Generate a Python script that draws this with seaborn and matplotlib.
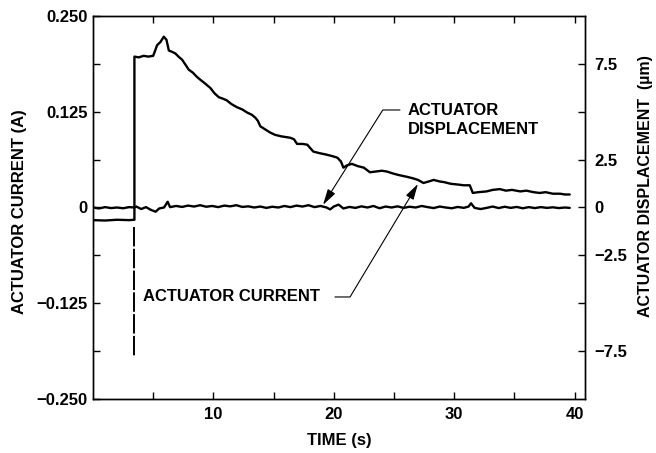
import matplotlib
matplotlib.use("Agg")
import matplotlib.pyplot as plt
import seaborn as sns

# Actuator current trace (A), left axis
current_t = [0.0, 1.0, 2.0, 3.0, 3.44, 3.44, 3.8, 4.2, 4.6, 5.0, 5.33, 5.6, 5.88,
             6.1, 6.3, 6.6, 6.85, 7.1, 7.4, 7.7, 7.95, 8.3, 8.6, 8.9, 9.3, 9.75,
             10.1, 10.45, 10.8, 11.1, 11.5, 11.95, 12.4, 12.8, 13.2, 13.5, 13.7,
             13.9, 14.3, 14.7, 15.1, 15.6, 16.0, 16.4, 16.7, 16.95, 17.4, 17.8,
             18.3, 18.8, 19.4, 19.9, 20.3, 20.6, 20.8, 21.1, 21.5, 22.0, 22.5,
             23.0, 23.5, 24.0, 24.4, 25.0, 25.5, 26.1, 26.6, 27.0, 27.45, 27.9,
             28.3, 28.8, 29.2, 29.7, 30.3, 30.8, 31.3, 31.55, 32.0, 32.7, 33.2,
             33.8, 34.3, 34.8, 35.5, 36.0, 36.6, 37.1, 37.6, 38.2, 38.8, 39.2, 39.6]
current_a = [-0.0165, -0.017, -0.016, -0.0165, -0.016, 0.197, 0.196, 0.198, 0.197,
             0.198, 0.212, 0.216, 0.223, 0.219, 0.205, 0.203, 0.201, 0.197, 0.193,
             0.186, 0.180, 0.176, 0.171, 0.167, 0.162, 0.156, 0.149, 0.144, 0.142,
             0.140, 0.135, 0.131, 0.128, 0.124, 0.121, 0.117, 0.113, 0.106, 0.102,
             0.098, 0.095, 0.093, 0.092, 0.091, 0.089, 0.083, 0.083, 0.082, 0.073,
             0.071, 0.069, 0.067, 0.065, 0.060, 0.052, 0.055, 0.057, 0.054, 0.052,
             0.046, 0.047, 0.048, 0.047, 0.044, 0.042, 0.040, 0.038, 0.036, 0.032,
             0.034, 0.036, 0.034, 0.033, 0.031, 0.030, 0.029, 0.029, 0.019, 0.020,
             0.021, 0.023, 0.024, 0.022, 0.023, 0.021, 0.022, 0.020, 0.019, 0.020,
             0.018, 0.018, 0.017, 0.017]

# Actuator displacement trace (um), right axis
disp_t = [0.0, 0.5, 1.0, 1.5, 2.0, 2.5, 3.0, 3.44, 3.6, 4.0, 4.4, 4.8, 5.2, 5.5,
          5.9, 6.2, 6.4, 6.9, 7.4, 7.9, 8.4, 8.9, 9.4, 9.9, 10.4, 10.9, 11.4, 11.9,
          12.4, 12.9, 13.4, 13.9, 14.4, 14.9, 15.4, 15.9, 16.4, 16.9, 17.4, 17.9,
          18.4, 18.9, 19.4, 19.7, 20.0, 20.4, 20.8, 21.3, 21.8, 22.3, 22.8, 23.3,
          23.8, 24.3, 24.8, 25.3, 25.8, 26.3, 26.8, 27.3, 27.8, 28.3, 28.8, 29.3,
          29.8, 30.3, 30.8, 31.2, 31.4, 31.7, 32.2, 32.7, 33.2, 33.7, 34.2, 34.7,
          35.2, 35.7, 36.2, 36.7, 37.2, 37.7, 38.2, 38.7, 39.2, 39.6]
disp_um = [0.0, -0.05, 0.02, -0.03, 0.0, -0.04, 0.02, 0.0, 0.05, -0.08, 0.02, -0.12,
           -0.22, -0.05, 0.0, 0.3, 0.02, 0.08, 0.03, 0.1, 0.05, 0.12, 0.04, 0.08,
           0.02, 0.1, 0.06, 0.12, 0.03, 0.06, 0.0, 0.05, -0.02, 0.04, 0.0, 0.08,
           0.02, 0.1, 0.05, 0.12, 0.02, 0.08, 0.0, -0.1, 0.05, 0.15, -0.05, 0.03,
           -0.02, 0.06, 0.0, 0.08, -0.04, 0.05, 0.0, 0.06, -0.02, 0.04, 0.0, 0.08,
           0.02, -0.03, 0.05, 0.0, -0.04, 0.03, -0.02, 0.05, 0.22, -0.02, -0.08,
           -0.02, 0.05, -0.03, 0.04, -0.02, 0.03, -0.04, 0.02, -0.03, 0.02, -0.02,
           0.01, -0.03, 0.0, -0.02]

# Fast transient at switch-on
spike_t = [3.44, 3.44]
spike_um = [-1.0, -7.8]

current_ticks = [-0.25, -0.125, 0.0, 0.125, 0.25]
current_labels = ["\u22120.250", "\u22120.125", "0", "0.125", "0.250"]
current_minor = [-0.1875, -0.0625, 0.0625, 0.1875]
disp_ticks = [-7.5, -2.5, 0.0, 2.5, 7.5]
disp_labels = ["\u22127.5", "\u22122.5", "0", "2.5", "7.5"]
disp_minor = [-5.0, 5.0]
time_ticks = [10, 20, 30, 40]
time_labels = ["10", "20", "30", "40"]
time_minor = [5, 15, 25, 35]

sns.set_theme(style="ticks")
plt.rcParams["font.family"] = ["Liberation Sans", "DejaVu Sans"]
plt.rcParams["axes.linewidth"] = 1.0

W, H = 656, 453
fig = plt.figure(figsize=(W / 100, H / 100), dpi=100)
ax = fig.add_axes([93 / W, 1 - 399 / H, 492 / W, 383 / H])
ax2 = ax.twinx()

lw = 1.7
sns.lineplot(x=current_t, y=current_a, ax=ax, color="black", lw=lw,
             estimator=None, sort=False, legend=False)
sns.lineplot(x=disp_t, y=disp_um, ax=ax2, color="black", lw=lw,
             estimator=None, sort=False, legend=False)
sns.lineplot(x=spike_t, y=spike_um, ax=ax2, color="black", lw=1.4,
             linestyle=(0, (10, 1.2)), estimator=None, sort=False, legend=False)

ax.set_xlim(0, 40.87)
ax.set_ylim(-0.25, 0.25)
ax2.set_ylim(-10, 10)

tfont = dict(fontsize=12, fontweight="bold", color="black")

ax.set_xticks(time_ticks)
ax.set_xticklabels(time_labels, **tfont)
ax.set_xticks(time_minor, minor=True)
ax.set_yticks(current_ticks)
ax.set_yticklabels(current_labels, **tfont)
ax.set_yticks(current_minor, minor=True)
ax.tick_params(axis="both", which="both", direction="in", length=5, width=1.0,
               colors="black")
ax.tick_params(axis="x", which="both", top=True, pad=6)
ax.tick_params(axis="y", which="both", right=False, pad=4)

ax2.set_yticks(disp_ticks)
ax2.set_yticklabels(disp_labels, **tfont)
ax2.set_yticks(disp_minor, minor=True)
ax2.tick_params(axis="y", which="both", direction="in", length=5, width=1.0,
                pad=7, colors="black")

for a in (ax, ax2):
    for s in a.spines.values():
        s.set_color("black")
        s.set_linewidth(1.0)

lfont = dict(fontsize=12, fontweight="bold", color="black")
ax.set_xlabel("TIME (s)", **lfont)
ax.xaxis.set_label_coords(0.5, -0.089)
ax.set_ylabel("ACTUATOR CURRENT (A)", **lfont)
ax.yaxis.set_label_coords(-0.134, 0.49)
ax2.set_ylabel("ACTUATOR DISPLACEMENT  (\u00b5m)", fontsize=11.5,
               fontweight="bold", color="black")
ax2.yaxis.set_label_coords(1.108, 0.555)

arrow_kw = dict(arrowstyle="-|>,head_length=0.8,head_width=0.22", color="black",
                lw=0.8, shrinkA=0, shrinkB=0, mutation_scale=12)

ax.text(26.16, 0.1142, "ACTUATOR\nDISPLACEMENT", ha="left", va="center",
        linespacing=1.35, **lfont)
ax.annotate("", xy=(19.11, 0.0035), xytext=(25.5, 0.1273),
            arrowprops=dict(connectionstyle="angle,angleA=0,angleB=57.8,rad=0",
                            **arrow_kw))

ax.text(4.19, -0.1168, "ACTUATOR CURRENT", ha="left", va="center", **lfont)
ax.annotate("", xy=(26.99, 0.0307), xytext=(20.1, -0.1168),
            arrowprops=dict(connectionstyle="angle,angleA=0,angleB=59,rad=0",
                            **arrow_kw))

fig.savefig("out.png", dpi=100)
